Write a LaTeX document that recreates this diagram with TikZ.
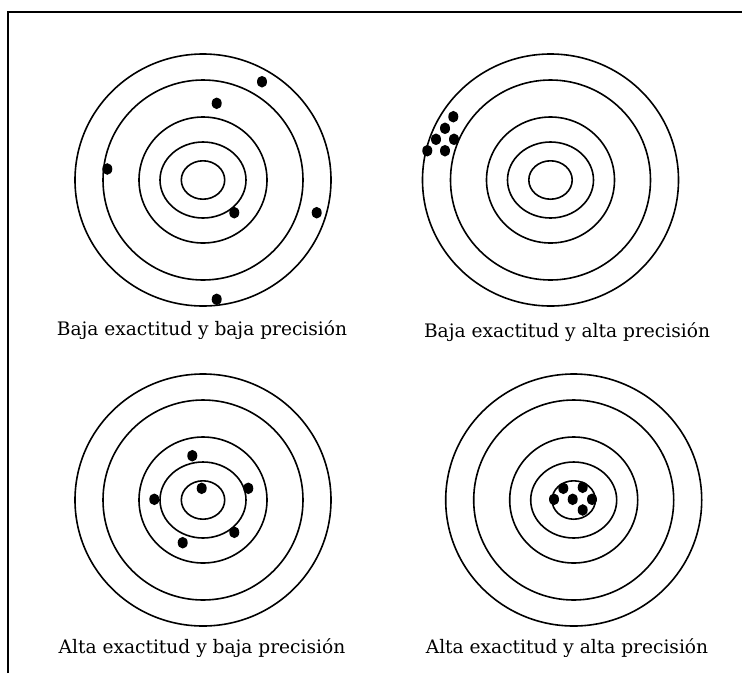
\documentclass[tikz,border=0pt]{standalone}
\usepackage{fontspec}
\setmainfont{DejaVu Serif}
\usetikzlibrary{positioning}
\tikzset{
  framing/.style={line width=1.8pt},
  ring/.style={draw, line width=1.6pt},
  shot/.style={fill=black},
  caption/.style={anchor=base, inner sep=0pt, font=\fontsize{18.6}{21}\selectfont}
}

\begin{document}
\begin{tikzpicture}[x=1pt, y=-1pt]
      \useasboundingbox (0,0) rectangle (742,673);
      \draw[framing] (8,673) -- (8,12) -- (742,12);
      % target centres
      \coordinate (t1) at (203,180);
      \coordinate (t2) at (550.5,180);
      \coordinate (t3) at (203,500);
      \coordinate (t4) at (573.7,500);
      \foreach \c in {t1,t2,t3,t4}
        \foreach \rx/\ry in {128/126, 100/100, 64/63, 43/38, 21.7/19.2}
          \draw[ring] (\c) ellipse [x radius=\rx pt, y radius=\ry pt];
      % shots
      \foreach \px/\py in {262/81.7, 216.7/103.3, 107.3/169, 234.3/212.7, 316.7/212.7, 216.7/299.3,
                           453.3/116.7, 445/128.3, 436/139.3, 454/139.3, 427.3/150.7, 445/150.7,
                           192.3/455.7, 201.7/488.3, 248.3/488.3, 154.3/499.3, 234.3/532.3, 182.7/542.7,
                           563.3/488.3, 582.7/487.3, 554/499.3, 572.7/499.3, 592/499.3, 582.7/510}
        \fill[shot] (\px,\py) ellipse [x radius=5pt, y radius=5.8pt];
      % captions
      \begin{scope}
        \clip (0,0) rectangle (742,338.5);
        \node[caption] (cap1) at (202,335.7) {Baja exactitud y baja precisión};
      \end{scope}
      \node[caption] (cap2) at (567,337) {Baja exactitud y alta precisión};
      \begin{scope}
        \clip (0,400) rectangle (742,656);
        \node[caption] (cap3) at (202,653.5) {Alta exactitud y baja precisión};
        \node[caption] (cap4) at (567,653.5) {Alta exactitud y alta precisión};
      \end{scope}
    \end{tikzpicture}
\end{document}
